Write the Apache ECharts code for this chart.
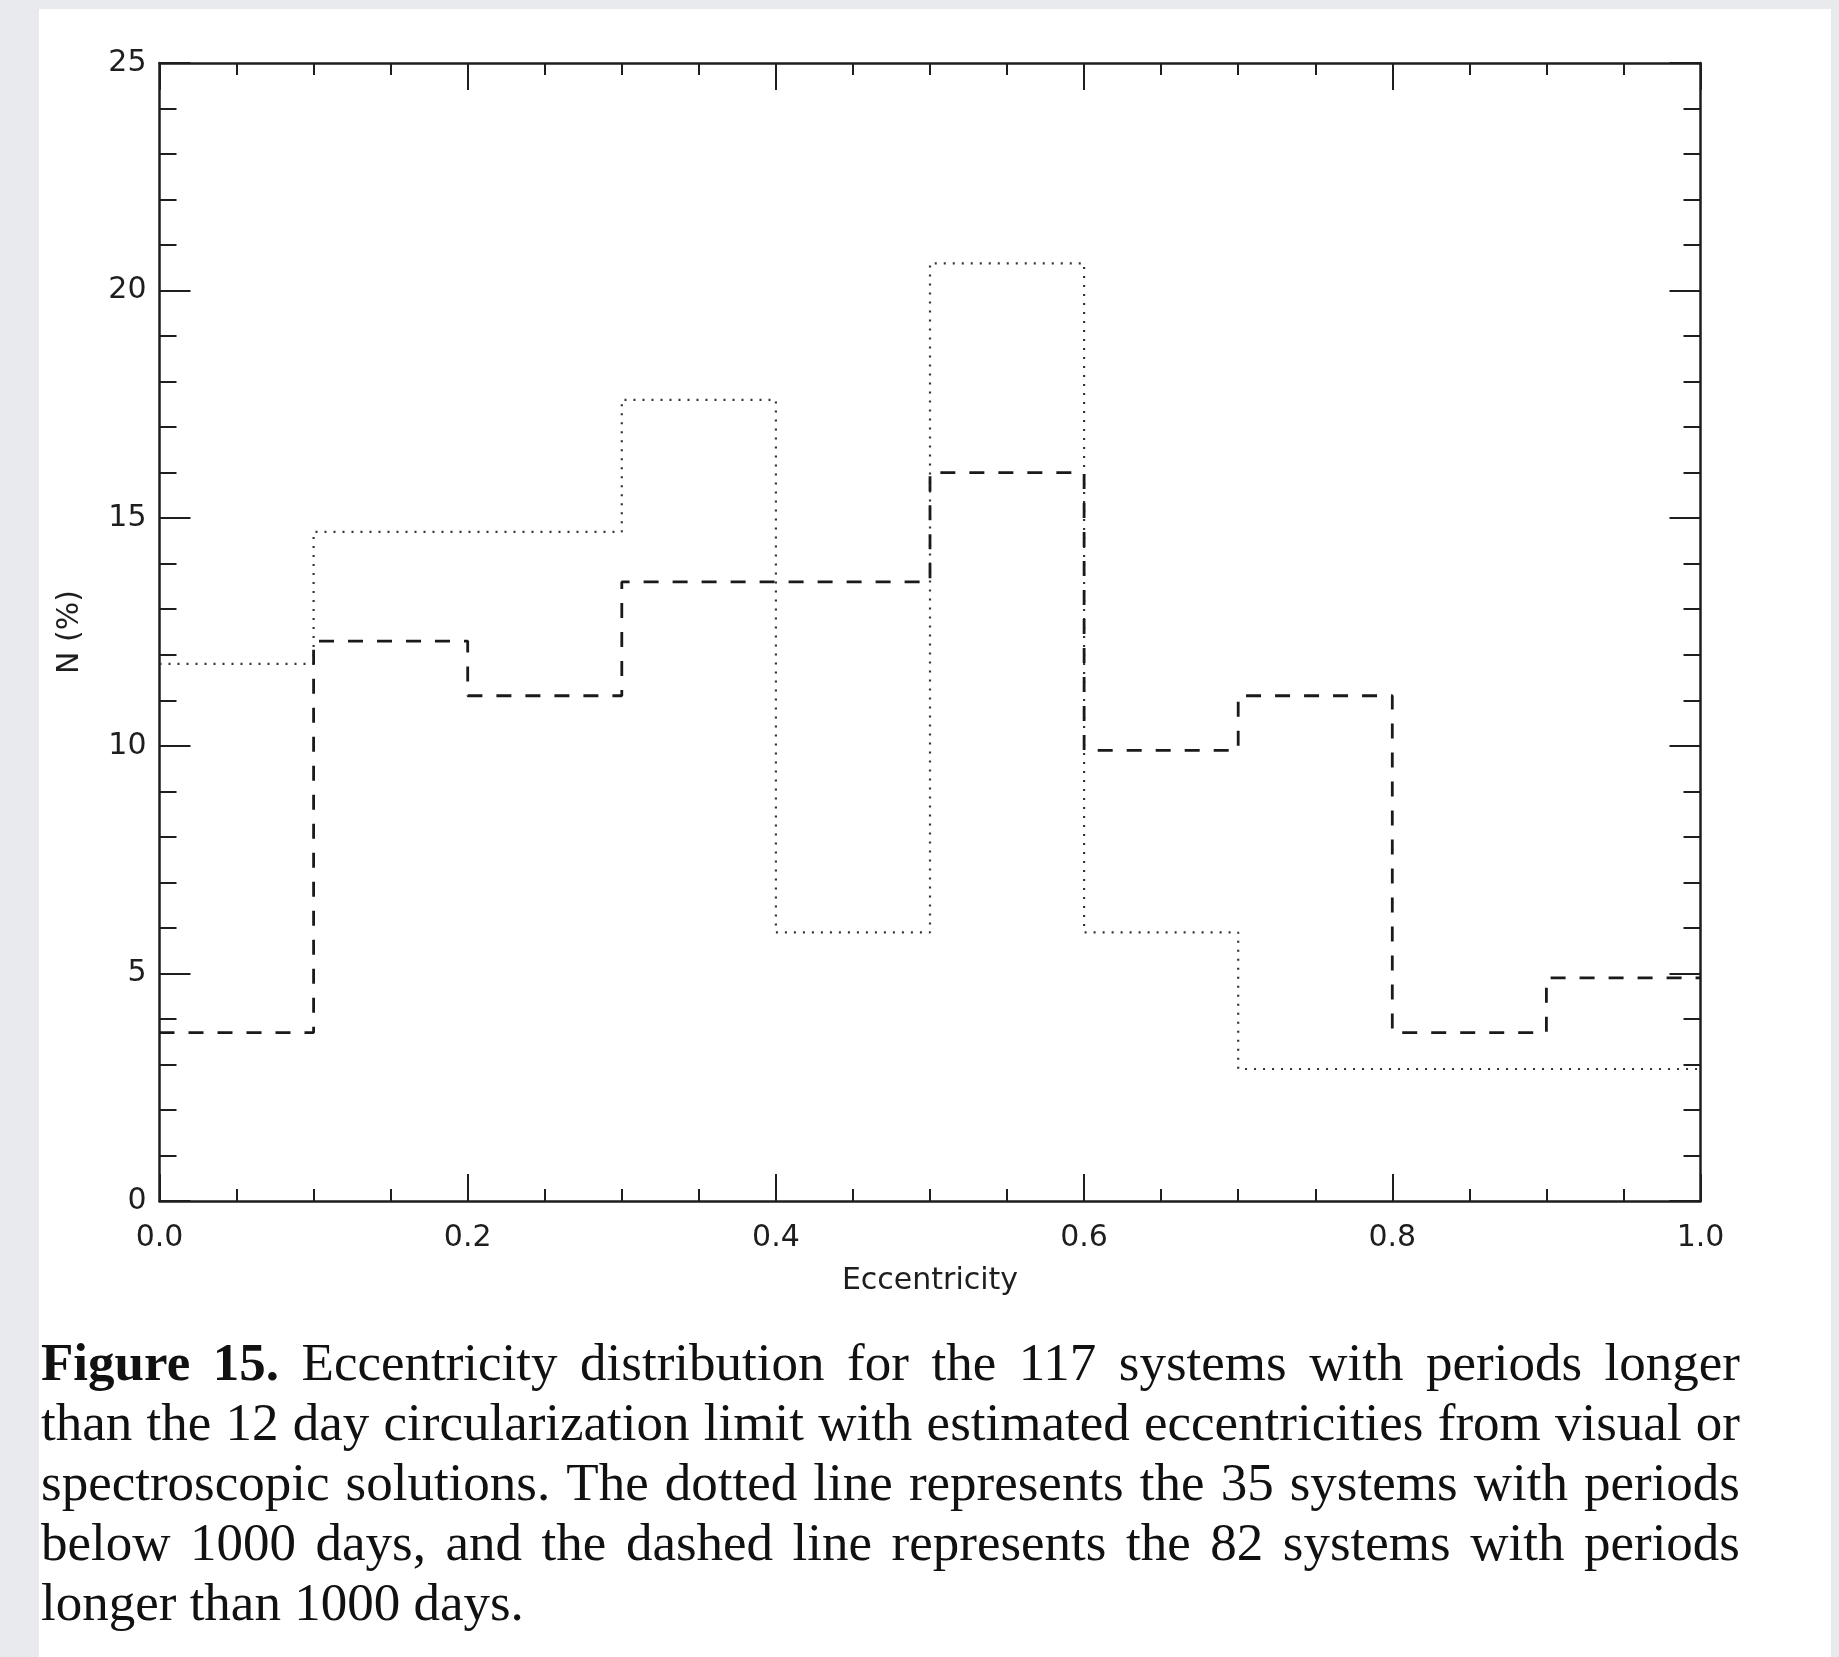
<!DOCTYPE html>
<html>
<head>
<meta charset="utf-8">
<script src="https://cdn.jsdelivr.net/npm/echarts@6/dist/echarts.min.js"></script>
<style>
  html, body { margin: 0; padding: 0; background: #e8eaee; }
  #chart { width: 1839px; height: 1657px; }
</style>
</head>
<body>
<div id="chart"></div>
<script>
// Eccentricity bin edges and histogram heights (percent of each sample)
const binEdges = [0.0, 0.1, 0.2, 0.3, 0.4, 0.5, 0.6, 0.7, 0.8, 0.9, 1.0];
// 35 systems with periods below 1000 days (dotted)
const shortPeriodPct = [11.8, 14.7, 14.7, 17.6, 5.9, 20.6, 5.9, 2.9, 2.9, 2.9];
// 82 systems with periods longer than 1000 days (dashed)
const longPeriodPct = [3.7, 12.3, 11.1, 13.6, 13.6, 16.0, 9.9, 11.1, 3.7, 4.9];
const xTickLabels = ['0.0', '0.2', '0.4', '0.6', '0.8', '1.0'];
const yTickLabels = ['0', '5', '10', '15', '20', '25'];
const xTitle = 'Eccentricity';
const yTitle = 'N (%)';
const captionBoldWords = 2; // "Figure 15."
const captionLines = [
  'Figure 15. Eccentricity distribution for the 117 systems with periods longer',
  'than the 12 day circularization limit with estimated eccentricities from visual or',
  'spectroscopic solutions. The dotted line represents the 35 systems with periods',
  'below 1000 days, and the dashed line represents the 82 systems with periods',
  'longer than 1000 days.'
];

// Histogram outline: horizontal run across each bin, vertical jump at the next edge
function stepPoints(vals) {
  const pts = vals.map((v, i) => [binEdges[i], v]);
  pts.push([binEdges[binEdges.length - 1], vals[vals.length - 1]]);
  return pts;
}

const INK = '#1e1e1e';
const AXIS_FONT = '"DejaVu Sans", "Liberation Sans", sans-serif';

function xAxisDef(pos, showLabels) {
  return {
    type: 'value', position: pos, min: 0, max: 1, interval: 0.2,
    axisLine: { show: true, onZero: false, lineStyle: { color: INK, width: 2.5 } },
    axisTick: { show: true, inside: true, length: 27, lineStyle: { color: INK, width: 2 } },
    minorTick: { show: true, splitNumber: 4, length: 12, lineStyle: { color: INK, width: 2 } },
    splitLine: { show: false }, minorSplitLine: { show: false },
    axisLabel: {
      show: showLabels, margin: 22, color: INK, fontSize: 30, fontFamily: AXIS_FONT,
      formatter: v => xTickLabels[Math.round(v / 0.2)]
    },
    name: showLabels ? xTitle : '', nameLocation: 'middle', nameGap: 65,
    nameTextStyle: { color: INK, fontSize: 30, fontFamily: AXIS_FONT }
  };
}

function yAxisDef(pos, showLabels) {
  return {
    type: 'value', position: pos, min: 0, max: 25, interval: 5,
    axisLine: { show: true, onZero: false, lineStyle: { color: INK, width: 2.5 } },
    axisTick: { show: true, inside: true, length: 31, lineStyle: { color: INK, width: 2 } },
    minorTick: { show: true, splitNumber: 5, length: 17, lineStyle: { color: INK, width: 2 } },
    splitLine: { show: false }, minorSplitLine: { show: false },
    axisLabel: {
      show: showLabels, margin: 13, color: INK, fontSize: 30, fontFamily: AXIS_FONT,
      formatter: v => yTickLabels[Math.round(v / 5)]
    },
    name: showLabels ? yTitle : '', nameLocation: 'middle', nameGap: 74,
    nameTextStyle: { color: INK, fontSize: 30, fontFamily: AXIS_FONT }
  };
}

// Caption: justified serif paragraph placed word by word
const CAP_FAMILY = '"Liberation Serif", "Times New Roman", serif';
const capSize = 53;
const capLeft = 41, capRight = 1740, capBase0 = 1384, capStep = 60;
const measure = document.createElement('canvas').getContext('2d');
function wordWidth(word, bold) {
  measure.font = (bold ? 'bold ' : '') + capSize + 'px ' + CAP_FAMILY;
  return measure.measureText(word).width;
}
const captionElements = [];
captionLines.forEach((line, li) => {
  const words = line.split(' ').map((w, wi) => ({ w, bold: li === 0 && wi < captionBoldWords }));
  words.forEach(o => { o.width = wordWidth(o.w, o.bold); });
  const total = words.reduce((s, o) => s + o.width, 0);
  const last = li === captionLines.length - 1;
  const gap = last ? wordWidth(' ', false) : (capRight - capLeft - total) / (words.length - 1);
  let x = capLeft;
  const baseline = capBase0 + li * capStep;
  words.forEach(o => {
    captionElements.push({
      type: 'text', x: x, y: baseline - 0.3375 * capSize, z: 10,
      style: {
        text: o.w, fill: '#111', fontSize: capSize, fontFamily: CAP_FAMILY,
        fontWeight: o.bold ? 'bold' : 'normal', align: 'left', verticalAlign: 'middle'
      }
    });
    x += o.width + gap;
  });
});

const chart = echarts.init(document.getElementById('chart'), null, { renderer: 'canvas', width: 1839, height: 1657 });
chart.setOption({
  animation: false,
  backgroundColor: '#e8eaee',
  grid: { left: 159.5, top: 63, right: 138.5, bottom: 456, containLabel: false },
  xAxis: [xAxisDef('bottom', true), xAxisDef('top', false)],
  yAxis: [yAxisDef('left', true), yAxisDef('right', false)],
  graphic: [
    { type: 'rect', z: -100, shape: { x: 39, y: 9, width: 1792, height: 1648 }, style: { fill: '#ffffff' } }
  ].concat(captionElements),
  series: [
    {
      name: 'P < 1000 d', type: 'line', step: 'end', symbol: 'none',
      xAxisIndex: 0, yAxisIndex: 0,
      data: stepPoints(shortPeriodPct),
      lineStyle: { color: '#333', width: 2.2, type: [2, 7], cap: 'butt' }
    },
    {
      name: 'P > 1000 d', type: 'line', step: 'end', symbol: 'none',
      xAxisIndex: 0, yAxisIndex: 0,
      data: stepPoints(longPeriodPct),
      lineStyle: { color: '#1a1a1a', width: 2.8, type: [15, 14], cap: 'butt' }
    }
  ]
});
</script>
</body>
</html>
